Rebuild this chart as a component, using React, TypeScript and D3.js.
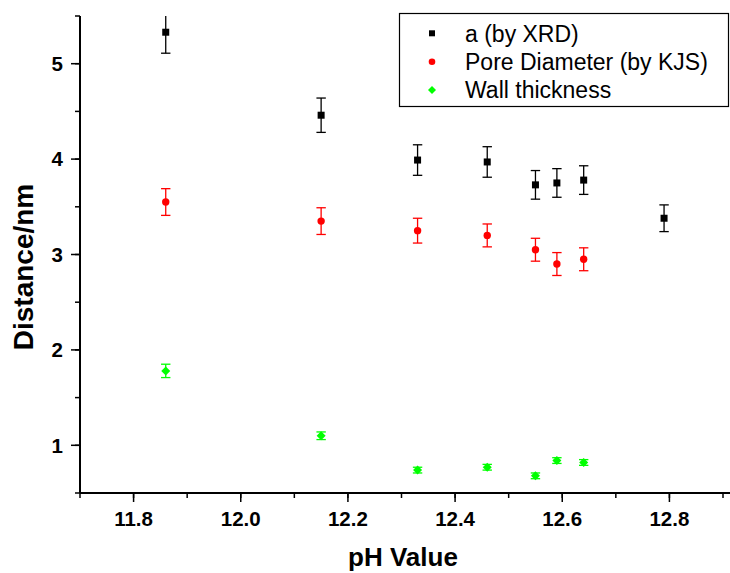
import React from "react";
import * as d3 from "d3";

const phValues = [11.86, 12.15, 12.33, 12.46, 12.55, 12.59, 12.64, 12.79];
const aXRD = [5.33, 4.46, 3.99, 3.97, 3.73, 3.75, 3.78, 3.38];
const aXRDErr = [0.22, 0.18, 0.16, 0.16, 0.15, 0.15, 0.15, 0.14];
const poreDiam = [3.55, 3.35, 3.25, 3.2, 3.05, 2.9, 2.95];
const poreErr = [0.14, 0.14, 0.13, 0.12, 0.12, 0.12, 0.12];
const wall = [1.78, 1.1, 0.74, 0.77, 0.68, 0.84, 0.82];
const wallErr = [0.07, 0.04, 0.03, 0.03, 0.03, 0.03, 0.03];
const xTicks = [11.8, 12.0, 12.2, 12.4, 12.6, 12.8];
const yTicks = [1, 2, 3, 4, 5];
const legendLabels = ["a (by XRD)", "Pore Diameter (by KJS)", "Wall thickness"];

const W = 730, H = 573;
const left = 80, right = 723, top = 16, bottom = 493;

export default function App() {
  const x = d3.scaleLinear().domain([11.7, 12.9]).range([left, right]);
  const y = d3.scaleLinear().domain([0.5, 5.5]).range([bottom, top]);
  const xMinor = d3.range(11.7, 12.91, 0.1);
  const yMinor = d3.range(0.5, 5.51, 0.5);
  const font = "Arial, 'Liberation Sans', sans-serif";

  const series = [
    { vals: aXRD, err: aXRDErr, color: "#000000", shape: "square" },
    { vals: poreDiam, err: poreErr, color: "#ff0000", shape: "circle" },
    { vals: wall, err: wallErr, color: "#00ff00", shape: "diamond" },
  ];

  const marker = (shape: string, cx: number, cy: number, color: string, key: any) => {
    if (shape === "square") return <rect key={key} x={cx - 3.5} y={cy - 3.5} width={7} height={7} fill={color} />;
    if (shape === "circle") return <circle key={key} cx={cx} cy={cy} r={3.7} fill={color} />;
    return <path key={key} d={`M${cx},${cy - 4.5}L${cx + 4.5},${cy}L${cx},${cy + 4.5}L${cx - 4.5},${cy}Z`} fill={color} />;
  };

  const rowY = [33.3, 61.7, 90];
  const baseY = [41.7, 70, 98.3];

  return (
    <svg width={W} height={H} style={{ position: "absolute", left: 0, top: 0, background: "#fff" }}>
      <defs>
        <clipPath id="plotclip">
          <rect x={left} y={top} width={right - left + 10} height={bottom - top} />
        </clipPath>
      </defs>
      {/* axes */}
      <line x1={left} x2={left} y1={top} y2={bottom} stroke="#000" strokeWidth={2} />
      <line x1={left} x2={W} y1={bottom} y2={bottom} stroke="#000" strokeWidth={2} />
      {xMinor.map((v, i) => (
        <line key={"xm" + i} x1={x(v)} x2={x(v)} y1={bottom} y2={bottom + 5} stroke="#000" strokeWidth={1.5} />
      ))}
      {xTicks.map((v, i) => (
        <g key={"xt" + i}>
          <line x1={x(v)} x2={x(v)} y1={bottom} y2={bottom + 9} stroke="#000" strokeWidth={1.5} />
          <text x={x(v)} y={526} textAnchor="middle" fontFamily={font} fontWeight="bold" fontSize={20.5}>
            {v.toFixed(1)}
          </text>
        </g>
      ))}
      {yMinor.map((v, i) => (
        <line key={"ym" + i} x1={left - 5} x2={left} y1={y(v)} y2={y(v)} stroke="#000" strokeWidth={1.5} />
      ))}
      {yTicks.map((v, i) => (
        <g key={"yt" + i}>
          <line x1={left - 9} x2={left} y1={y(v)} y2={y(v)} stroke="#000" strokeWidth={1.5} />
          <text x={left - 17} y={y(v) + 7.3} textAnchor="end" fontFamily={font} fontWeight="bold" fontSize={20.5}>
            {v}
          </text>
        </g>
      ))}
      <text x={403} y={566} textAnchor="middle" fontFamily={font} fontWeight="bold" fontSize={26}>
        pH Value
      </text>
      <text transform={`translate(33,267) rotate(-90)`} textAnchor="middle" fontFamily={font} fontWeight="bold" fontSize={28}>
        Distance/nm
      </text>
      {/* data */}
      <g clipPath="url(#plotclip)">
        {series.map((s, si) =>
          s.vals.map((v, i) => {
            const cx = x(phValues[i]);
            const y1 = y(v + s.err[i]);
            const y0 = y(v - s.err[i]);
            return (
              <g key={`s${si}-${i}`}>
                <line x1={cx} x2={cx} y1={y1} y2={y0} stroke={s.color} strokeWidth={1.3} />
                <line x1={cx - 4.7} x2={cx + 4.7} y1={y1} y2={y1} stroke={s.color} strokeWidth={1.3} />
                <line x1={cx - 4.7} x2={cx + 4.7} y1={y0} y2={y0} stroke={s.color} strokeWidth={1.3} />
                {marker(s.shape, cx, y(v), s.color, "m")}
              </g>
            );
          })
        )}
      </g>
      {/* legend */}
      <rect x={399.5} y={13.5} width={329} height={93} fill="#fff" stroke="#000" strokeWidth={1.2} />
      {series.map((s, i) => (
        <g key={"lg" + i}>
          {s.shape === "square" ? (
            <rect x={429} y={rowY[i] - 3} width={6} height={6} fill={s.color} />
          ) : s.shape === "circle" ? (
            <circle cx={432} cy={rowY[i]} r={3.3} fill={s.color} />
          ) : (
            <path d={`M432,${rowY[i] - 4}L436,${rowY[i]}L432,${rowY[i] + 4}L428,${rowY[i]}Z`} fill={s.color} />
          )}
          <text x={465} y={baseY[i]} fontFamily={font} fontSize={23}>
            {legendLabels[i]}
          </text>
        </g>
      ))}
    </svg>
  );
}
